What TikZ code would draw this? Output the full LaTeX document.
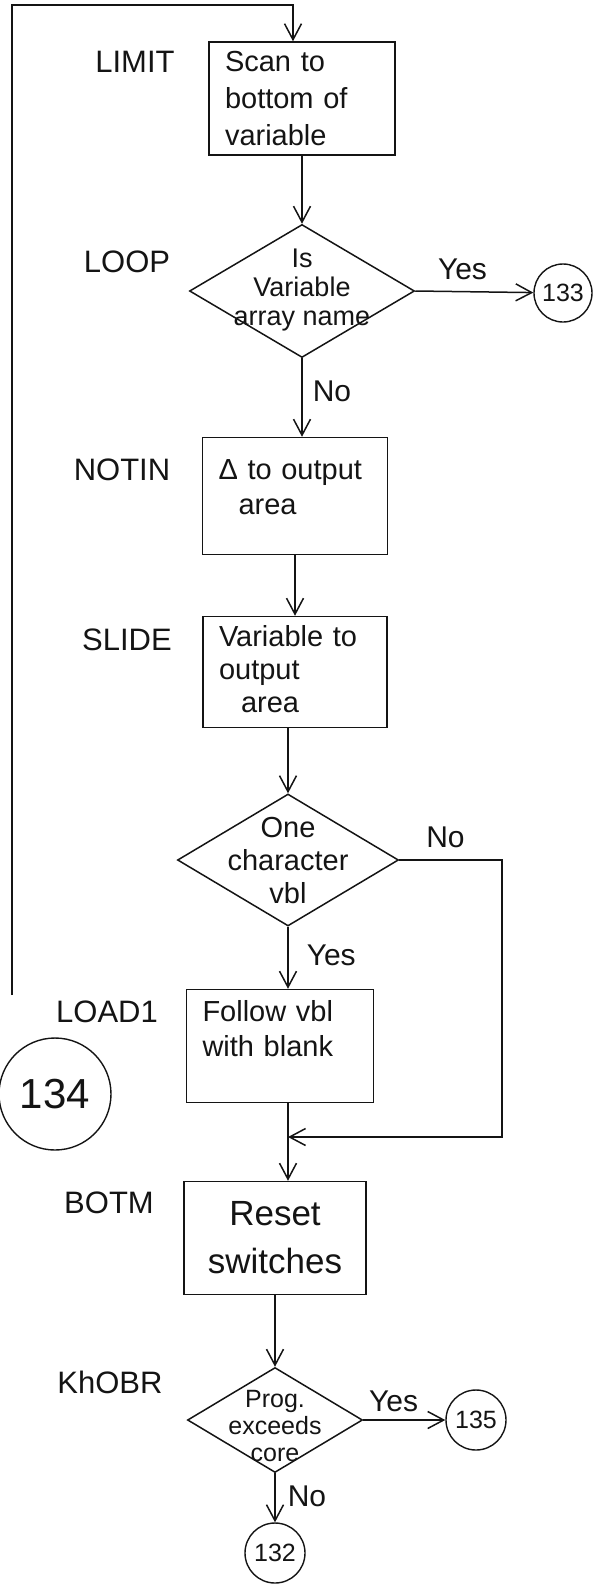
\documentclass[tikz,border=0pt]{standalone}
\usepackage{fontspec}
\setmainfont{Liberation Sans}
\usetikzlibrary{arrows.meta, shapes.geometric}
\definecolor{Ink}{rgb}{0.08, 0.08, 0.08}
% text of a decision, kept out of the diamond's size
\newcommand{\dtext}[2][0pt]{\makebox[0pt]{\smash{\raisebox{#1}{\begin{tabular}{@{}c@{}}#2\end{tabular}}}}}

\begin{document}
\begin{tikzpicture}[
    x=1pt, y=-1pt,
    color=Ink,
    flow/.style={-{Straight Barb[length=16pt, width=17pt]}, line width=1.5pt, Ink},
    procbox/.style={draw, rectangle, line width=1.5pt, inner xsep=16pt, inner ysep=0pt,
                    align=left, font=\fontsize{29}{35}\selectfont},
    decision/.style={draw, diamond, line width=1.5pt, inner sep=0pt, font=\fontsize{27}{29}\selectfont},
    conn/.style={draw, circle, line width=1.4pt, inner sep=0pt, font=\fontsize{25}{28}\selectfont},
    lbl/.style={font=\fontsize{31}{34}\selectfont},
    ans/.style={font=\fontsize{30}{34}\selectfont, inner sep=2pt},
]
\useasboundingbox (0,0) rectangle (605,1595);

% ============ LIMIT / LOOP ============
\node[lbl] (limitlbl) at (135,62) {LIMIT};
\node[procbox, minimum width=186, minimum height=113, text width=154, font=\fontsize{29}{37}\selectfont] (limit) at (302,98.5)
    {Scan to\\bottom of\\variable};

\node[lbl] (looplbl) at (127,262) {LOOP};
\node[decision, minimum width=225, minimum height=133] (loop) at (302,291)
    {\dtext[-6pt]{Is\\Variable\\array name}};
\node[conn, minimum size=58] (c133) at (563,293) {133};

% ============ NOTIN / SLIDE ============
\node[lbl] (notinlbl) at (122,470) {NOTIN};
\node[procbox, minimum width=185, minimum height=117, text width=153] (notin) at (295,496)
    {Δ to output\\\hspace*{20pt}area\\[-17pt]\mbox{}};

\node[lbl] (slidelbl) at (127,640) {SLIDE};
\node[procbox, minimum width=184, minimum height=111, text width=152, font=\fontsize{29}{33}\selectfont] (slide) at (295,672)
    {\mbox{}\\[-17pt]Variable to\\output\\\hspace*{22pt}area};

\node[decision, minimum width=221, minimum height=132, font=\fontsize{29}{33}\selectfont] (onechar) at (288,860)
    {\dtext[-10pt]{One\\character\\vbl}};

% ============ LOAD1 / BOTM ============
\node[lbl] (load1lbl) at (107,1012) {LOAD1};
\node[procbox, minimum width=187, minimum height=113, text width=155] (load1) at (280,1046)
    {Follow vbl\\with blank\\\mbox{}};
\node[conn, minimum size=112, font=\fontsize{42}{44}\selectfont] (c134) at (55,1094) {134};

\node[lbl] (botmlbl) at (109,1203) {BOTM};
\node[procbox, minimum width=182, minimum height=113, text width=150, align=center,
      font=\fontsize{35}{48}\selectfont] (botm) at (275,1238) {Reset\\switches};

% ============ KhOBR ============
\node[lbl] (knobrlbl) at (110,1382) {KhOBR};
\node[decision, minimum width=175, minimum height=105, font=\fontsize{25}{27}\selectfont] (knobr) at (275,1420)
    {\dtext[-15pt]{Prog.\\exceeds\\core}};
\node[conn, minimum size=60] (c135) at (476,1420) {135};
\node[conn, minimum size=60] (c132) at (275,1553) {132};

% connectors
\coordinate (loopback) at (12,995);
\coordinate (topturn) at (293,5);
\coordinate (bypass) at (502,860);
\coordinate (join) at (288,1137);

\draw[flow] (loopback) |- (topturn) -- (topturn |- limit.north);
\draw[flow] (limit.south) -- (loop.north);
\draw[flow] (loop.east) -- node[ans, above=9pt, pos=0.4] (yesloop) {Yes} (c133);
\draw[flow] (loop.south) -- node[ans, right=8pt, pos=0.42] (noloop) {No} (loop.south |- notin.north);
\draw[flow] (notin.south) -- (slide.north);
\draw[flow] (onechar.north |- slide.south) -- (onechar.north);
\draw[flow] (onechar.east) -- node[ans, above=9pt, pos=0.45] (nochar) {No} (bypass) |- (join);
\draw[flow] (onechar.south) -- node[ans, right=16pt, pos=0.46] (yeschar) {Yes} (onechar.south |- load1.north);
\draw[flow] (load1.south -| join) -- (join |- botm.north);
\draw[flow] (botm.south) -- (knobr.north);
\draw[flow] (knobr.east) -- node[ans, above=5pt, pos=0.37] (yesknobr) {Yes} (c135);
\draw[flow] (knobr.south) -- node[ans, right=10pt, pos=0.48] (noknobr) {No} (c132);

\end{tikzpicture}
\end{document}
